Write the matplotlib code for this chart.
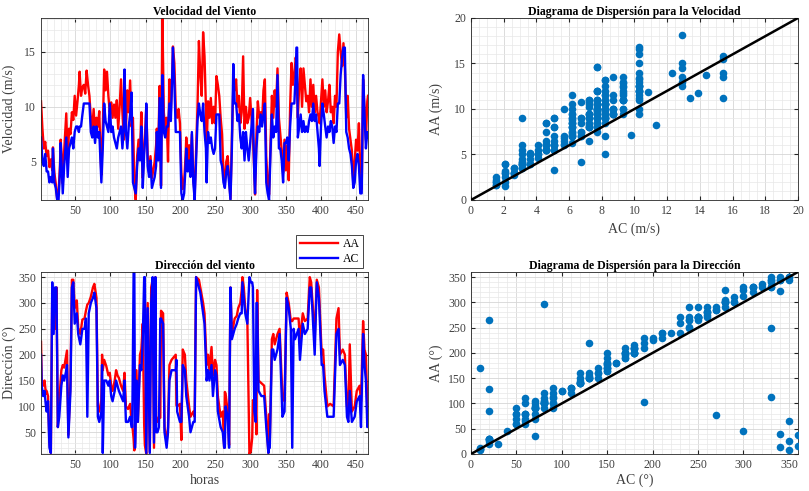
import numpy as np
import matplotlib.pyplot as plt
from matplotlib.ticker import MultipleLocator

plt.rcParams['font.family'] = ['Liberation Serif', 'DejaVu Serif']

# velocidad: horas, AA (m/s), AC (m/s)
horas_vel = [1, 3, 5, 7, 9, 11, 13, 15, 17, 18, 20, 22, 24, 26, 28, 29, 31, 32, 34, 37,
             39, 41, 43, 45, 47, 49, 51, 53, 55, 56, 58, 60, 62, 64, 66, 68, 70, 72, 74, 76,
             78, 80, 82, 84, 86, 87, 89, 91, 93, 95, 97, 99, 101, 103, 105, 107, 109, 111, 113, 115,
             117, 119, 120, 122, 124, 126, 128, 130, 132, 134, 136, 138, 140, 142, 144, 146, 148, 150, 151, 153,
             155, 157, 159, 161, 163, 165, 166, 168, 170, 172, 174, 176, 178, 180, 182, 184, 186, 188, 189, 191,
             193, 195, 197, 199, 201, 203, 205, 207, 208, 210, 212, 214, 216, 218, 220, 222, 224, 226, 228, 230,
             232, 234, 236, 237, 239, 241, 243, 245, 247, 249, 251, 253, 255, 257, 259, 261, 263, 265, 267, 269,
             271, 273, 275, 277, 279, 281, 283, 285, 287, 289, 291, 293, 295, 297, 299, 301, 303, 305, 306, 308,
             310, 312, 314, 316, 318, 320, 322, 324, 326, 328, 330, 332, 334, 336, 338, 340, 342, 344, 346, 348,
             350, 352, 354, 356, 358, 360, 362, 364, 365, 366, 367, 369, 371, 373, 375, 377, 379, 381, 383, 385,
             387, 389, 391, 393, 395, 397, 398, 400, 402, 404, 406, 408, 410, 412, 414, 416, 418, 420, 422, 424,
             426, 428, 430, 432, 434, 436, 438, 440, 442, 444, 446, 448, 450, 452, 454, 456, 458, 460, 462, 464,
             466, 467]
aa_vel = [10.5, 8.0, 6.2, 6.8, 5.5, 6.0, 4.5, 5.2, 4.2, 6.3, 4.0, 3.0, 1.6, 2.2, 4.6, 7.0, 5.0, 3.0, 6.0, 9.4,
          5.0, 8.0, 7.5, 9.5, 8.8, 11.0, 9.2, 10.5, 12.0, 13.2, 11.0, 11.8, 12.0, 11.2, 13.3, 12.0, 11.0, 9.0, 8.0, 9.8,
          7.5, 9.0, 8.2, 9.6, 5.5, 3.8, 8.0, 13.4, 11.5, 13.2, 11.0, 9.5, 10.4, 9.0, 10.2, 9.0, 10.6, 8.0, 10.0, 12.5,
          9.5, 7.0, 11.2, 8.0, 11.5, 9.5, 12.4, 8.2, 9.0, 3.0, 1.5, 5.5, 7.0, 5.5, 9.5, 3.5, 6.2, 8.5, 10.0, 5.5,
          4.0, 5.5, 3.5, 4.2, 5.0, 6.5, 8.0, 6.0, 11.9, 2.8, 18.1, 9.5, 8.0, 9.0, 5.0, 12.5, 9.5, 13.0, 15.5, 14.0,
          9.8, 9.0, 9.8, 8.5, 4.0, 2.5, 3.2, 5.5, 7.2, 5.0, 6.5, 4.5, 7.5, 3.5, 2.0, 6.0, 10.0, 16.0, 13.0, 11.0,
          16.8, 14.6, 10.0, 6.0, 10.5, 9.0, 10.8, 8.5, 10.0, 8.5, 12.8, 12.0, 11.0, 9.0, 7.5, 4.0, 3.0, 5.0, 5.5, 3.5,
          1.6, 7.0, 11.8, 11.5, 12.5, 10.0, 11.0, 8.5, 9.5, 14.6, 8.0, 10.0, 8.5, 9.0, 10.8, 9.0, 7.1, 4.0, 2.0, 7.5,
          10.5, 9.0, 9.5, 8.5, 11.5, 12.5, 5.5, 3.0, 2.0, 6.5, 11.0, 9.0, 11.5, 10.0, 13.5, 9.0, 7.5, 6.0, 4.0, 7.0,
          4.2, 6.5, 3.3, 10.0, 14.0, 12.0, 13.0, 14.5, 14.0, 11.2, 9.0, 12.0, 13.5, 10.0, 13.5, 12.0, 10.5, 11.0, 9.5, 12.5,
          10.0, 12.0, 9.5, 11.0, 9.5, 9.0, 8.5, 10.5, 12.5, 10.0, 11.5, 9.5, 10.5, 12.0, 9.5, 10.0, 8.5, 11.0, 10.0, 15.0,
          16.6, 15.0, 13.7, 15.8, 13.5, 9.0, 11.0, 8.0, 7.0, 6.0, 3.0, 5.0, 7.0, 6.0, 8.5, 4.0, 2.5, 12.5, 10.0, 7.0,
          10.5, 11.0]
ac_vel = [7.2, 5.1, 4.6, 5.7, 4.1, 4.1, 3.1, 3.6, 3.1, 6.2, 3.1, 2.6, 1.5, 1.5, 4.1, 6.7, 3.6, 2.1, 4.6, 7.2,
          3.6, 6.2, 6.7, 7.2, 6.2, 7.7, 8.2, 8.2, 7.7, 8.2, 8.2, 9.3, 10.3, 10.3, 10.3, 10.3, 10.3, 7.7, 7.2, 8.2,
          6.7, 8.2, 7.2, 7.7, 4.6, 3.1, 6.2, 10.3, 8.7, 8.2, 7.7, 10.3, 7.7, 8.2, 7.2, 6.7, 6.2, 7.2, 7.7, 8.2,
          6.2, 8.2, 13.4, 7.7, 6.2, 8.2, 9.3, 11.3, 3.1, 2.6, 2.1, 4.6, 6.2, 5.1, 8.2, 2.6, 5.7, 7.7, 10.3, 4.6,
          3.6, 5.1, 2.6, 3.1, 3.6, 4.6, 7.7, 5.1, 10.8, 2.6, 12.9, 7.7, 7.2, 8.2, 8.2, 10.3, 8.7, 12.9, 15.4, 12.3,
          7.7, 7.7, 7.7, 7.7, 2.1, 1.5, 2.1, 4.6, 6.2, 4.1, 5.1, 3.6, 7.7, 3.1, 1.5, 5.1, 8.7, 10.3, 9.3, 8.7,
          10.3, 7.7, 6.2, 3.1, 7.7, 6.7, 7.2, 6.2, 5.7, 6.2, 9.3, 9.3, 9.3, 5.1, 4.6, 3.1, 2.6, 4.1, 4.6, 3.1,
          1.5, 6.2, 13.9, 10.3, 10.3, 8.7, 9.3, 7.2, 6.2, 7.7, 5.1, 7.7, 6.2, 5.1, 6.7, 8.2, 9.8, 3.6, 2.1, 6.2,
          8.2, 7.7, 9.3, 8.2, 9.3, 10.3, 3.1, 2.1, 1.5, 5.7, 9.3, 7.2, 8.2, 7.7, 12.9, 6.2, 6.2, 5.1, 3.1, 6.7,
          6.7, 7.2, 5.1, 8.2, 10.3, 10.3, 10.3, 12.9, 15.4, 15.4, 7.2, 8.2, 9.3, 7.7, 8.7, 7.7, 8.2, 7.7, 8.7, 9.3,
          8.7, 10.3, 8.7, 9.3, 7.7, 6.2, 4.6, 8.2, 10.3, 9.3, 8.2, 7.2, 8.2, 7.7, 8.7, 8.2, 6.7, 8.2, 7.7, 10.3,
          10.3, 12.9, 14.4, 15.4, 15.4, 7.7, 7.2, 6.2, 5.7, 4.6, 2.6, 3.1, 5.1, 5.7, 4.6, 2.1, 2.1, 12.9, 9.3, 6.2,
          7.7, 7.2]

# direccion: horas, AA (grados), AC (grados)
horas_dir = [1, 2, 4, 6, 8, 9, 11, 13, 15, 17, 19, 21, 23, 25, 27, 30, 32, 34, 37, 38,
             40, 43, 45, 47, 49, 52, 54, 57, 60, 63, 65, 67, 69, 72, 75, 77, 80, 82, 84, 87,
             88, 89, 91, 94, 97, 99, 101, 103, 106, 108, 110, 112, 115, 118, 120, 122, 125, 128, 130, 131,
             133, 134, 135, 137, 139, 142, 144, 146, 148, 149, 151, 153, 156, 158, 160, 162, 164, 165, 167, 169,
             171, 172, 175, 177, 180, 182, 184, 187, 190, 193, 194, 195, 199, 201, 203, 206, 208, 212, 214, 218,
             220, 222, 226, 228, 232, 234, 237, 239, 241, 244, 246, 249, 251, 253, 257, 260, 262, 263, 264, 267,
             269, 271, 273, 277, 280, 282, 285, 287, 288, 290, 292, 295, 298, 300, 302, 303, 305, 307, 308, 309,
             311, 315, 319, 322, 325, 326, 327, 330, 332, 334, 338, 341, 345, 348, 351, 354, 357, 359, 361, 363,
             368, 370, 374, 377, 381, 384, 386, 388, 391, 394, 397, 401, 403, 405, 409, 413, 418, 422, 425, 427,
             431, 434, 437, 439, 441, 444, 448, 451, 455, 457, 460, 462, 464, 466, 467]
aa_dir = [225, 150, 140, 150, 125, 130, 120, 30, 10, 322, 290, 250, 330, 60, 110, 170, 180, 175, 200, 208,
          45, 150, 345, 345, 290, 305, 252, 240, 268, 270, 285, 297, 300, 312, 330, 337, 310, 100, 90, 112,
          200, 170, 190, 178, 160, 165, 140, 130, 150, 170, 160, 155, 140, 130, 165, 100, 95, 105, 70, 65,
          37, 15, 30, 170, 70, 200, 210, 260, 65, 25, 8, 300, 12, 330, 345, 20, 350, 80, 70, 80,
          78, 285, 280, 60, 30, 60, 180, 190, 195, 200, 102, 100, 105, 35, 210, 200, 150, 100, 80, 90,
          80, 350, 345, 330, 300, 280, 180, 200, 170, 215, 160, 190, 180, 120, 80, 90, 20, 128, 125, 90,
          25, 330, 240, 270, 275, 290, 300, 325, 350, 330, 290, 270, 8, 13, 40, 112, 100, 90, 46, 325,
          150, 145, 140, 80, 10, 85, 30, 230, 240, 220, 240, 250, 120, 110, 320, 300, 265, 265, 270, 270,
          270, 230, 280, 265, 270, 350, 340, 300, 230, 345, 330, 200, 210, 160, 100, 105, 100, 270, 290, 200,
          210, 200, 100, 90, 220, 90, 100, 130, 140, 110, 265, 210, 200, 100, 90]
ac_dir = [200, 140, 120, 130, 100, 90, 110, 20, 10, 340, 240, 330, 330, 60, 80, 140, 160, 150, 170, 180,
          40, 130, 330, 340, 260, 280, 240, 220, 250, 250, 270, 80, 280, 300, 310, 320, 290, 80, 70, 90,
          180, 10, 150, 150, 140, 150, 120, 110, 130, 150, 140, 130, 120, 110, 150, 70, 70, 80, 60, 60,
          360, 360, 20, 150, 70, 180, 170, 230, 350, 350, 10, 290, 10, 300, 350, 30, 350, 50, 50, 60,
          270, 270, 260, 50, 20, 50, 150, 170, 170, 170, 190, 90, 70, 70, 180, 170, 120, 80, 50, 70,
          70, 350, 330, 320, 280, 260, 150, 170, 150, 180, 120, 170, 160, 90, 60, 50, 20, 20, 100, 80,
          20, 330, 230, 250, 260, 270, 280, 280, 340, 310, 280, 260, 350, 340, 340, 330, 90, 70, 300, 300,
          130, 120, 120, 60, 10, 20, 20, 210, 210, 190, 210, 240, 80, 90, 310, 290, 250, 20, 250, 230,
          250, 190, 260, 240, 250, 330, 330, 280, 200, 340, 310, 180, 180, 130, 80, 80, 80, 240, 250, 180,
          190, 180, 80, 70, 130, 70, 80, 110, 120, 60, 240, 180, 150, 60, 90]

lim_vel = [0, 20]
lim_dir = [0, 360]
azul = '#0072BD'

fig = plt.figure(figsize=(8.09, 4.91), dpi=100)
w, h = 0.4042, 0.3707
ax1 = fig.add_axes([0.0507, 0.5927, w, h])
ax2 = fig.add_axes([0.5822, 0.5927, w, h])
ax3 = fig.add_axes([0.0507, 0.0754, w, h])
ax4 = fig.add_axes([0.5822, 0.0754, w, h])


def estilo(ax, mx, mn_x, my, mn_y):
    ax.xaxis.set_major_locator(MultipleLocator(mx))
    ax.xaxis.set_minor_locator(MultipleLocator(mn_x))
    ax.yaxis.set_major_locator(MultipleLocator(my))
    ax.yaxis.set_minor_locator(MultipleLocator(mn_y))
    ax.grid(which='major', color='#d6d6d6', lw=0.6)
    ax.grid(which='minor', color='#e8e8e8', lw=0.5)
    ax.set_axisbelow(True)
    ax.tick_params(which='both', direction='in', top=True, right=True,
                   labelsize=8.5, colors='#262626', labelcolor='#404040')
    ax.tick_params(which='major', length=3)
    ax.tick_params(which='minor', length=0)
    for s in ax.spines.values():
        s.set_color('#262626')
        s.set_linewidth(0.6)


# velocidad en el tiempo
l1, = ax1.plot(horas_vel, aa_vel, color='red', lw=1.7, label='AA')
l2, = ax1.plot(horas_vel, ac_vel, color='blue', lw=1.7, label='AC')
ax1.set_xlim(min(horas_vel), max(horas_vel))
ax1.set_ylim(min(min(aa_vel), min(ac_vel)), max(max(aa_vel), max(ac_vel)))
estilo(ax1, 50, 10, 5, 1)
ax1.set_xticks(range(50, 451, 50))
ax1.set_title('Velocidad del Viento', fontsize=8.5, fontweight='bold', pad=2)
ax1.set_ylabel('Velocidad (m/s)', fontsize=10, color='#404040', labelpad=6)

# dispersion velocidad
ax2.scatter(ac_vel, aa_vel, s=30, color=azul, zorder=3, linewidths=0)
ax2.plot(lim_vel, lim_vel, color='black', lw=1.8, zorder=4)
ax2.set_xlim(lim_vel)
ax2.set_ylim(lim_vel)
estilo(ax2, 2, 0.5, 5, 1)
ax2.set_title('Diagrama de Dispersión para la Velocidad', fontsize=8.5, fontweight='bold', pad=2)
ax2.set_xlabel('AC (m/s)', fontsize=10, color='#404040', labelpad=4)
ax2.set_ylabel('AA (m/s)', fontsize=10, color='#404040', labelpad=8)

# direccion en el tiempo
ax3.plot(horas_dir, aa_dir, color='red', lw=1.7)
ax3.plot(horas_dir, ac_dir, color='blue', lw=1.7)
ax3.set_xlim(min(horas_dir), max(horas_dir))
ax3.set_ylim(min(min(aa_dir), min(ac_dir)), max(max(aa_dir), max(ac_dir)))
estilo(ax3, 50, 10, 50, 10)
ax3.set_xticks(range(50, 451, 50))
ax3.set_title('Dirección del viento', fontsize=8.5, fontweight='bold', pad=2)
ax3.set_ylabel('Dirección (°)', fontsize=10, color='#404040', labelpad=2)
ax3.set_xlabel('horas', fontsize=10, color='#404040', labelpad=2)

# dispersion direccion
ax4.scatter(ac_dir, aa_dir, s=30, color=azul, zorder=3, linewidths=0)
ax4.plot(lim_dir, lim_dir, color='black', lw=1.8, zorder=4)
ax4.set_xlim(lim_dir)
ax4.set_ylim(lim_dir)
estilo(ax4, 50, 10, 50, 10)
ax4.set_title('Diagrama de Dispersión para la Dirección', fontsize=8.5, fontweight='bold', pad=2)
ax4.set_xlabel('AC (°)', fontsize=10, color='#404040', labelpad=2)
ax4.set_ylabel('AA (°)', fontsize=10, color='#404040', labelpad=4)

leg = fig.legend([l1, l2], ['AA', 'AC'], loc='upper right', bbox_to_anchor=(0.456, 0.5336),
                 fontsize=8.5, fancybox=False, edgecolor='#262626', framealpha=1,
                 handlelength=3.2, borderpad=0.3, labelspacing=0.2, handletextpad=0.4)
leg.get_frame().set_linewidth(0.6)

fig.savefig('out.png', dpi=100)
